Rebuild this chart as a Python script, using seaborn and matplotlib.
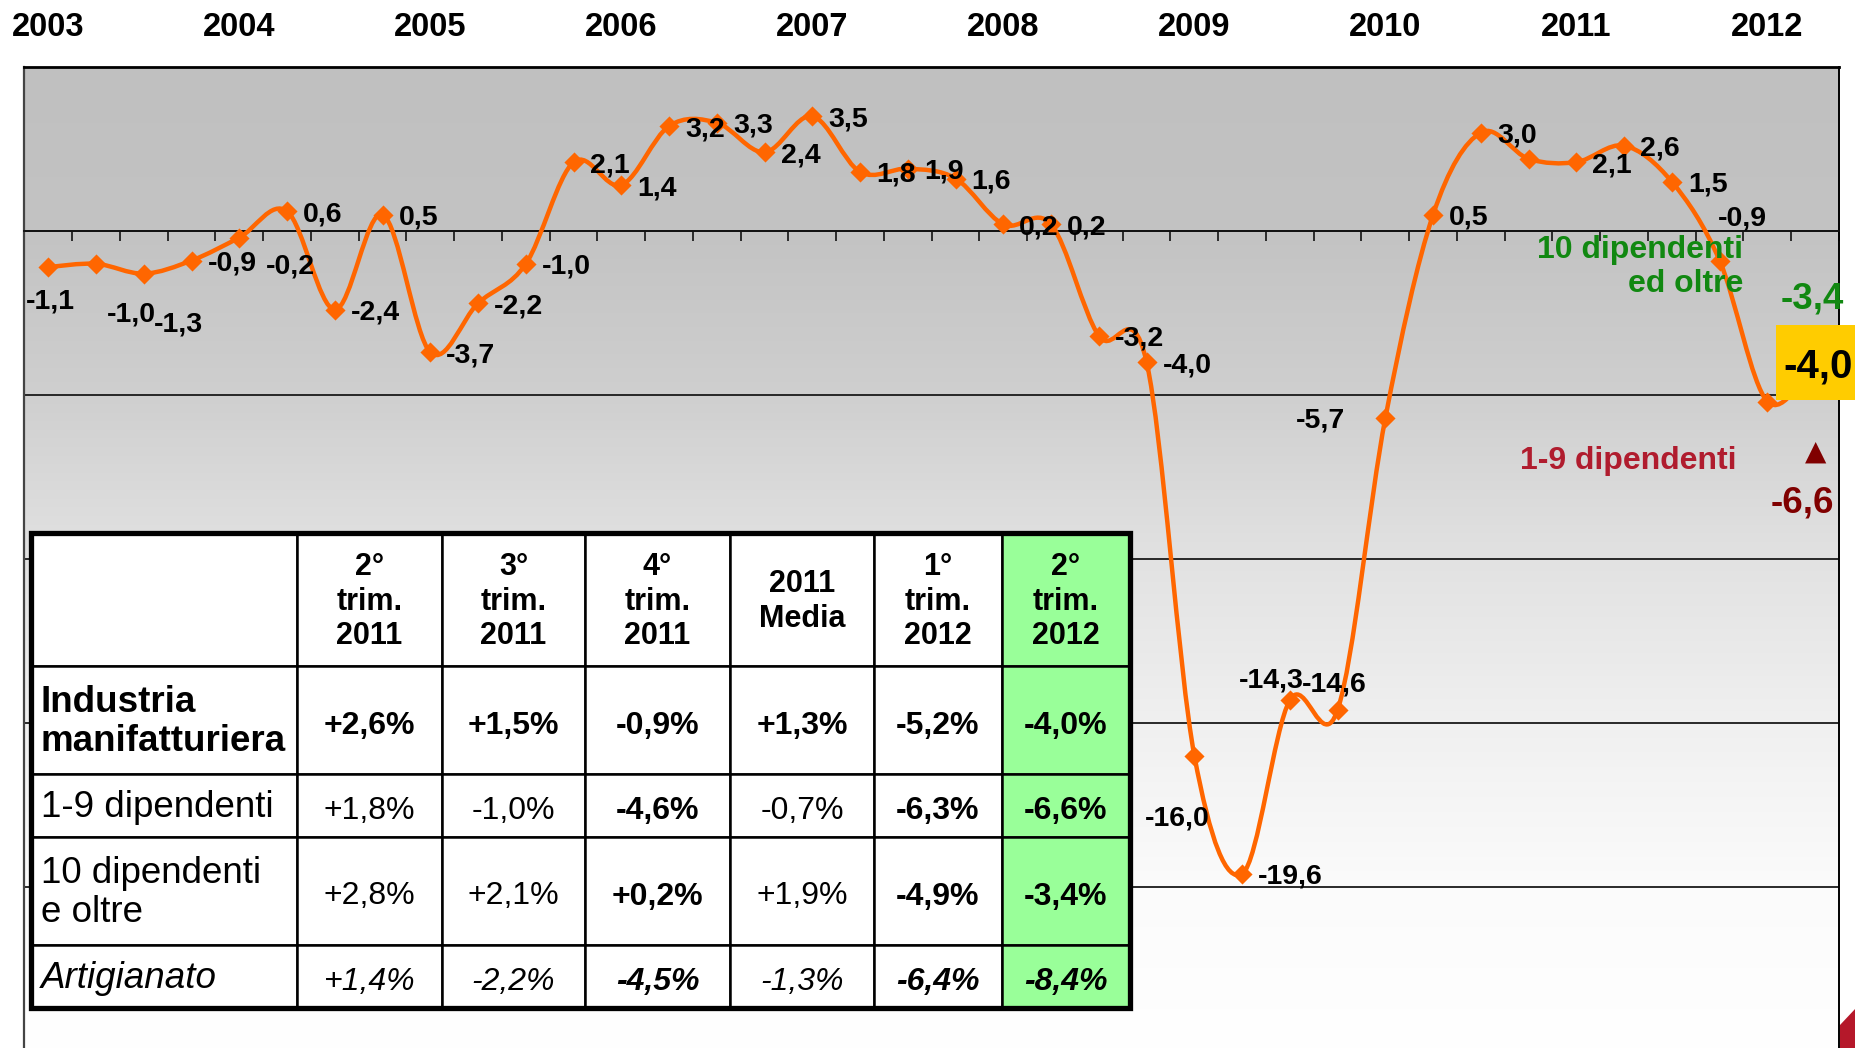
import numpy as np
import matplotlib
matplotlib.use("Agg")
import matplotlib.pyplot as plt
import seaborn as sns
from matplotlib.path import Path
from matplotlib.patches import PathPatch, Rectangle, Polygon
from matplotlib.transforms import IdentityTransform

# ---------------- data ----------------
quarters = list(range(38))  # 2003 Q1 ... 2012 Q2
values = [-1.1, -1.0, -1.3, -0.9, -0.2, 0.6, -2.4, 0.5, -3.7, -2.2,
          -1.0, 2.1, 1.4, 3.2, 3.3, 2.4, 3.5, 1.8, 1.9, 1.6,
          0.2, 0.2, -3.2, -4.0, -16.0, -19.6, -14.3, -14.6, -5.7, 0.5,
          3.0, 2.2, 2.1, 2.6, 1.5, -0.9, -5.2, -4.0]
unlabeled = [31, 36]
highlight_index = 37
years = ["2003", "2004", "2005", "2006", "2007", "2008", "2009", "2010", "2011", "2012"]
year_positions = [0, 4, 8, 12, 16, 20, 24, 28, 32, 36]

label_small_10 = "10 dipendenti\ned oltre"
value_10 = "-3,4"
label_small_19 = "1-9 dipendenti"
value_19 = "-6,6"

table_header = ["", "2°\ntrim.\n2011", "3°\ntrim.\n2011", "4°\ntrim.\n2011",
                "2011\nMedia", "1°\ntrim.\n2012", "2°\ntrim.\n2012"]
table_rows = ["Industria\nmanifatturiera", "1-9 dipendenti",
              "10 dipendenti\ne oltre", "Artigianato"]
table_values = [
    ["+2,6%", "+1,5%", "-0,9%", "+1,3%", "-5,2%", "-4,0%"],
    ["+1,8%", "-1,0%", "-4,6%", "-0,7%", "-6,3%", "-6,6%"],
    ["+2,8%", "+2,1%", "+0,2%", "+1,9%", "-4,9%", "-3,4%"],
    ["+1,4%", "-2,2%", "-4,5%", "-1,3%", "-6,4%", "-8,4%"],
]

# ---------------- styles ----------------
sns.set_style("white")
plt.rcParams["font.family"] = ["Liberation Sans", "DejaVu Sans"]
plt.rcParams["text.color"] = "black"
plt.rcParams["xtick.color"] = "black"
plt.rcParams["ytick.color"] = "black"

W, H = 1856, 1048
PX = 72.0 / 100.0  # px -> pt
ORANGE = "#FF6600"

def fx(x):
    return x / W

def fy(y):
    return 1 - y / H

fig = plt.figure(figsize=(W / 100, H / 100), dpi=100)
fig.patch.set_facecolor("white")

ax_top, ax_left, ax_right = 67, 24.5, 1839
ax = fig.add_axes([fx(ax_left), 0, (ax_right - ax_left) / W, (H - ax_top) / H])
ytop = 5
ybot = ytop - (H - ax_top) / 32.8

# background gradient
yy = np.linspace(ytop, ybot, 500)
stops_y = np.array([5, 0, -5, -10, -15, -20, -25])
stops_g = np.array([192, 195, 207, 226, 240, 251, 255]) / 255.0
g = np.interp(-yy, -stops_y, stops_g)
img = np.repeat(g[:, None, None], 3, axis=2)
ax.imshow(img, extent=[-0.5, 37.5, ybot, ytop], aspect="auto", origin="upper",
          zorder=0, interpolation="bilinear")

# smooth line (Excel-like smoothing through the data points)
def smooth_path(xs, ys):
    pts = np.column_stack([xs, ys]).astype(float)
    n = len(pts)
    verts = [pts[0]]
    codes = [Path.MOVETO]
    for i in range(n - 1):
        p0 = pts[i - 1] if i > 0 else pts[i]
        p1, p2 = pts[i], pts[i + 1]
        p3 = pts[i + 2] if i + 2 < n else pts[i + 1]
        verts += [p1 + (p2 - p0) / 6.0, p2 - (p3 - p1) / 6.0, p2]
        codes += [Path.CURVE4] * 3
    return Path(verts, codes)

ax.add_patch(PathPatch(smooth_path(quarters, values), fill=False, edgecolor=ORANGE,
                       lw=3.2, capstyle="round", joinstyle="round", zorder=3))
sns.scatterplot(x=quarters, y=values, ax=ax, marker="D", s=105, color=ORANGE,
                edgecolor=ORANGE, linewidth=0, zorder=4, legend=False)

ax.set_xlim(-0.5, 37.5)
ax.set_ylim(ybot, ytop)
ax.set_xlabel("")
ax.set_ylabel("")

# axes styling
ax.spines["bottom"].set_position(("data", 0))
ax.spines["bottom"].set_linewidth(1.3)
ax.spines["bottom"].set_color("#111111")
ax.spines["top"].set_linewidth(2.0)
ax.spines["top"].set_color("black")
ax.spines["left"].set_linewidth(1.6)
ax.spines["left"].set_color("#444444")
ax.spines["right"].set_linewidth(1.4)
ax.spines["right"].set_color("black")

ax.set_yticks([-20, -15, -10, -5, 0, 5])
ax.yaxis.grid(True, color="#1a1a1a", lw=1.3)
ax.tick_params(axis="y", direction="in", length=5, width=1.2, labelleft=False,
               color="#333333")

ax.set_xticks(year_positions)
ax.set_xticklabels(years, fontsize=23.5, fontweight="bold", color="black")
ax.set_xticks(np.arange(-0.5, 38, 1), minor=True)
ax.tick_params(axis="x", which="major", bottom=False, top=True, labelbottom=False,
               labeltop=True, length=0, pad=17)
ax.tick_params(axis="x", which="minor", bottom=True, top=False, length=7,
               width=1.2, direction="out", color="#111111")

# value labels
offsets = {0: (2, -31, "center"), 1: (35, -48, "center"), 2: (35, -48, "center"),
           4: (51, -26, "center"), 24: (-17, -60, "center"), 26: (-19, 23, "center"),
           27: (-3, 28, "center"), 28: (-40, 0, "right"), 35: (23, 45, "center")}
for i, (xq, v) in enumerate(zip(quarters, values)):
    if i in unlabeled or i == highlight_index:
        continue
    dx, dy, ha = offsets.get(i, (16, 0, "left"))
    ax.annotate(f"{v:.1f}".replace(".", ","), (xq, v), xytext=(dx * PX, dy * PX),
                textcoords="offset points", ha=ha, va="center_baseline",
                fontsize=20.5, fontweight="bold", color="black", zorder=5,
                annotation_clip=False)

# highlighted last value (yellow box)
px_, py_ = ax.transData.transform((quarters[highlight_index], values[highlight_index]))
box = Rectangle((px_ - 39, py_ - 38), 82, 75, facecolor="#FFCC00", edgecolor="none",
                transform=IdentityTransform(), zorder=10, clip_on=False)
ax.add_artist(box)
ax.annotate(f"{values[highlight_index]:.1f}".replace(".", ","),
            (quarters[highlight_index], values[highlight_index]),
            xytext=(3 * PX, 0), textcoords="offset points", ha="center",
            va="center_baseline", fontsize=29, fontweight="bold", color="black",
            zorder=11, annotation_clip=False)

# side annotations
fig.text(fx(1743), fy(267), label_small_10, ha="right", va="center",
         multialignment="right", fontsize=23, fontweight="bold", color="#118811",
         linespacing=1.2)
fig.text(fx(1812), fy(295), value_10, ha="center", va="center_baseline", fontsize=26.5,
         fontweight="bold", color="#118811")
fig.text(fx(1628), fy(458), label_small_19, ha="center", va="center_baseline",
         fontsize=23, fontweight="bold", color="#B01C2E")
fig.text(fx(1816), fy(452), "▲", ha="center", va="center", fontsize=20,
         family="DejaVu Sans", color="#800000")
fig.text(fx(1802), fy(499), value_19, ha="center", va="center_baseline", fontsize=26.5,
         fontweight="bold", color="#800000")

# slide corner decoration
corner = Polygon([[fx(1840), fy(1025)], [fx(1856), fy(1008)], [fx(1856), fy(1048)],
                  [fx(1840), fy(1048)]], closed=True, transform=fig.transFigure,
                 facecolor="#B5182A", edgecolor="none")
fig.add_artist(corner)

# ---------------- table ----------------
t_left, t_top, t_right, t_bottom = 31, 533, 1130, 1008
tax = fig.add_axes([fx(t_left), fy(t_bottom), (t_right - t_left) / W,
                    (t_bottom - t_top) / H])
tax.set_zorder(6)
tax.set_xlim(0, t_right - t_left)
tax.set_ylim(t_bottom - t_top, 0)
tax.axis("off")

col_edges = [0, 266, 411, 554, 699, 843, 971, 1099]
row_edges = [0, 133, 241, 304, 412, 475]
bold_cols = [False, False, True, False, True, True]
green = "#99FF99"

for r in range(5):
    for c in range(7):
        x0, x1 = col_edges[c], col_edges[c + 1]
        y0, y1 = row_edges[r], row_edges[r + 1]
        fc = green if c == 6 else "white"
        tax.add_patch(Rectangle((x0, y0), x1 - x0, y1 - y0, facecolor=fc,
                                edgecolor="black", lw=1.8, zorder=1))
tax.add_patch(Rectangle((0, 0), 1099, 475, fill=False, edgecolor="black", lw=3.8,
                        zorder=3, clip_on=False))

for c in range(1, 7):
    xc = (col_edges[c] + col_edges[c + 1]) / 2
    yc = (row_edges[0] + row_edges[1]) / 2 + 2
    tax.text(xc, yc, table_header[c], ha="center", va="center", fontsize=22,
             fontweight="bold", linespacing=1.2, zorder=4)

for r in range(4):
    yc = (row_edges[r + 1] + row_edges[r + 2]) / 2 + 2
    italic = "italic" if r == 3 else "normal"
    tax.text(10, yc, table_rows[r], ha="left", va="center", fontsize=26.5,
             fontweight="bold" if r == 0 else "normal", fontstyle=italic,
             linespacing=1.15, zorder=4)
    for c in range(6):
        xc = (col_edges[c + 1] + col_edges[c + 2]) / 2
        bold = (r == 0) or bold_cols[c]
        tax.text(xc, yc, table_values[r][c], ha="center", va="center_baseline",
                 fontsize=23, fontweight="bold" if bold else "normal",
                 fontstyle=italic, zorder=4)

fig.savefig("out.png", dpi=100)
